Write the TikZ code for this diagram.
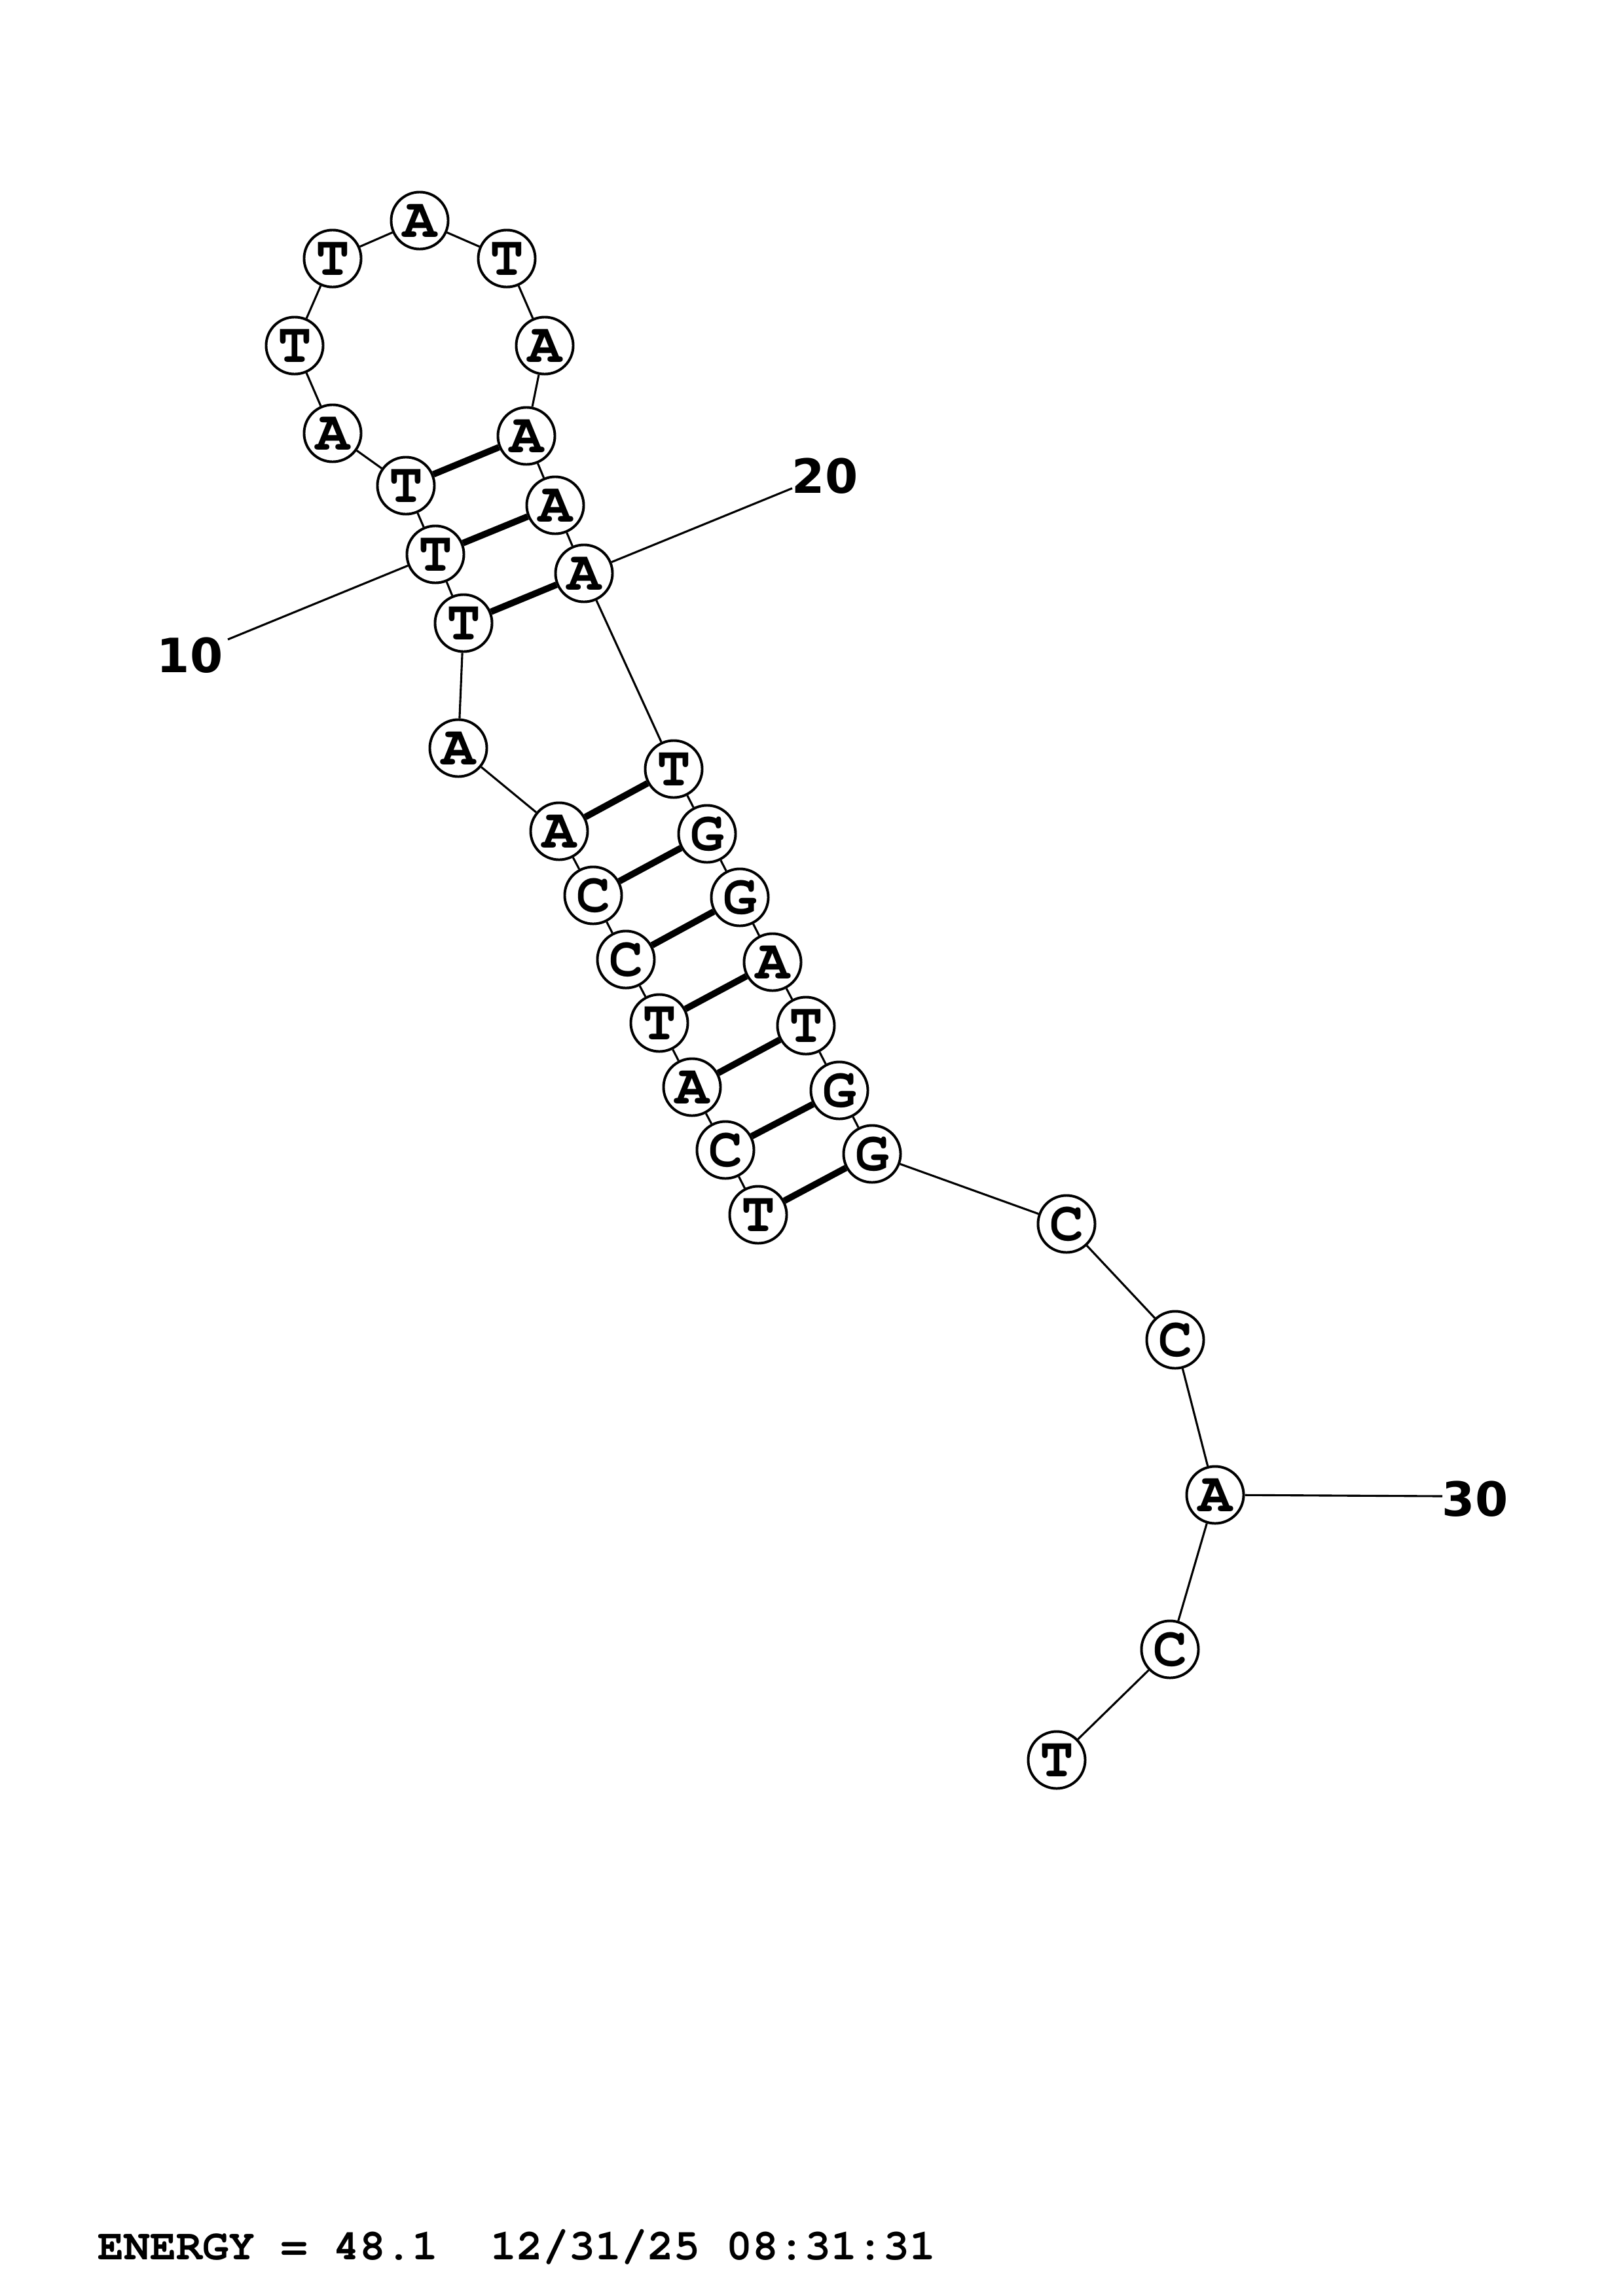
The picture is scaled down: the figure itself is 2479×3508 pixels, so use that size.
\documentclass[tikz,border=0pt]{standalone}
\usepackage{fontspec}
\usepackage{tikz}
\usetikzlibrary{positioning}
\newfontfamily\basefont{TeX Gyre Cursor}
\newfontfamily\numfont{DejaVu Sans}
\tikzset{
  base/.style={circle, draw=black, fill=white, line width=0.95pt,
    minimum size=7.37mm, inner sep=0pt,
    font=\basefont\bfseries\fontsize{20.8}{21}\selectfont},
  backbone/.style={line width=0.75pt, color=black},
  pairbond/.style={line width=2.4pt, color=black},
  tickline/.style={line width=0.75pt, color=black},
  numlabel/.style={inner sep=0pt, font=\numfont\bfseries\fontsize{17.4}{18}\selectfont},
  infotext/.style={inner sep=0pt, anchor=base west,
    font=\basefont\bfseries\fontsize{16.05}{17}\selectfont}
}

\begin{document}
\begin{tikzpicture}[x=0.08467mm, y=-0.08467mm]
  \useasboundingbox[fill=white] (0,0) rectangle (2479,3508);
  % 5' strand of the stem
  \node[base] (n1) at (1158,1856) {T};
  \node[base] (n2) at (1108,1757) {C};
  \node[base] (n3) at (1057,1661) {A};
  \node[base] (n4) at (1007,1563) {T};
  \node[base] (n5) at (956,1466) {C};
  \node[base] (n6) at (906,1368) {C};
  \node[base] (n7) at (854,1270) {A};
  % interior loop
  \node[base] (n8) at (700,1143) {A};
  \node[base] (n9) at (708,952) {T};
  \node[base] (n10) at (665,847) {T};
  \node[base] (n11) at (620,742) {T};
  % hairpin loop
  \node[base] (n12) at (508,662) {A};
  \node[base] (n13) at (450,528) {T};
  \node[base] (n14) at (508,395) {T};
  \node[base] (n15) at (641,337) {A};
  \node[base] (n16) at (774,395) {T};
  \node[base] (n17) at (832,528) {A};
  \node[base] (n18) at (804,666) {A};
  \node[base] (n19) at (848,772) {A};
  \node[base] (n20) at (892,876) {A};
  % 3' strand of the stem
  \node[base] (n21) at (1029,1175) {T};
  \node[base] (n22) at (1080,1274) {G};
  \node[base] (n23) at (1130,1371) {G};
  \node[base] (n24) at (1180,1470) {A};
  \node[base] (n25) at (1231,1567) {T};
  \node[base] (n26) at (1282,1666) {G};
  \node[base] (n27) at (1332,1763) {G};
  % tail
  \node[base] (n28) at (1629,1870) {C};
  \node[base] (n29) at (1795,2047) {C};
  \node[base] (n30) at (1856,2284) {A};
  \node[base] (n31) at (1787,2520) {C};
  \node[base] (n32) at (1614,2689) {T};
  % backbone
  \draw[backbone] (n1) -- (n2) -- (n3) -- (n4) -- (n5) -- (n6) -- (n7) -- (n8)
    -- (n9) -- (n10) -- (n11) -- (n12) -- (n13) -- (n14) -- (n15) -- (n16);
  \draw[backbone] (n16) -- (n17) -- (n18) -- (n19) -- (n20) -- (n21) -- (n22)
    -- (n23) -- (n24) -- (n25) -- (n26) -- (n27) -- (n28) -- (n29) -- (n30)
    -- (n31) -- (n32);
  % base pairs
  \draw[pairbond] (n1) -- (n27);
  \draw[pairbond] (n2) -- (n26);
  \draw[pairbond] (n3) -- (n25);
  \draw[pairbond] (n4) -- (n24);
  \draw[pairbond] (n5) -- (n23);
  \draw[pairbond] (n6) -- (n22);
  \draw[pairbond] (n7) -- (n21);
  \draw[pairbond] (n9) -- (n20);
  \draw[pairbond] (n10) -- (n19);
  \draw[pairbond] (n11) -- (n18);
  % position ticks
  \node[numlabel] (lab10) at (290,1001) {10};
  \coordinate (tick10) at (348,977);
  \draw[tickline] (n10) -- (tick10);
  \node[numlabel] (lab20) at (1260,727) {20};
  \coordinate (tick20) at (1210,746);
  \draw[tickline] (n20) -- (tick20);
  \node[numlabel] (lab30) at (2253,2290) {30};
  \coordinate (tick30) at (2203,2286);
  \draw[tickline] (n30) -- (tick30);
  % footer
  \node[infotext] (energy) at (149,3452) {ENERGY = 48.1\ \ 12/31/25 08:31:31};
\end{tikzpicture}
\end{document}
